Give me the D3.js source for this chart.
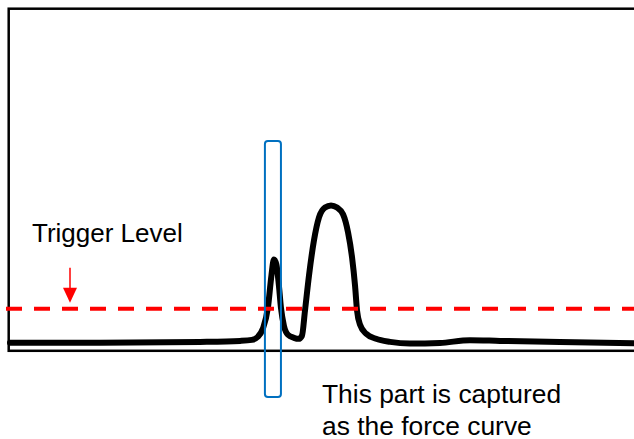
<!DOCTYPE html>
<html>
<head>
<meta charset="utf-8">
<script src="https://cdn.jsdelivr.net/npm/d3@7"></script>
<style>
  html, body { margin: 0; padding: 0; background: #fff; }
  svg { display: block; }
  text { font-family: "Liberation Sans", Arial, sans-serif; fill: #000; }
</style>
</head>
<body>
<svg id="chart" width="634" height="439"></svg>
<script>
// Force signal over time (ms, arbitrary force units)
const timeMs = [0.8, 36.7, 76.7, 92.7, 97.4, 99.8, 101.8, 103.8, 105.2, 106.2, 107.2, 108.2, 109.0, 110.2, 111.8, 114.2, 116.1, 117.4, 118.6, 120.2, 122.2, 124.2, 126.6, 129.0, 131.4, 133.8, 135.8, 137.4, 138.6, 139.4, 140.6, 143.0, 147.0, 152.6, 160.5, 172.5, 184.5, 196.5, 220.4, 250.0];
const force  = [2.35, 2.35, 2.6, 2.9, 3.2, 4.1, 6.5, 12.6, 22.0, 26.7, 25.2, 19.0, 12.6, 7.3, 4.7, 3.8, 3.5, 4.4, 11.7, 22.0, 32.3, 39.0, 41.9, 42.5, 41.9, 39.9, 34.6, 27.3, 19.0, 11.7, 7.6, 5.0, 3.5, 2.6, 2.1, 2.3, 3.1, 2.9, 2.6, 2.2];

// Trigger threshold and the captured window
const triggerLevel = 12.3;
const captureWindow = [102.6, 109.0];      // time range, ms
const captureForceSpan = [-13.5, 61.3];    // vertical extent of the marker box

const labels = {
  trigger: "Trigger Level",
  capture: ["This part is captured", "as the force curve"]
};

const svg = d3.select("#chart");
const x = d3.scaleLinear().domain([0, 250]).range([8, 634]);
const y = d3.scaleLinear().domain([0, 100]).range([350.8, 8.7]);

// Plot frame (open on the right, running past the edge)
svg.append("rect")
  .attr("x", 8.7).attr("y", y(100))
  .attr("width", 700).attr("height", y(0) - y(100))
  .attr("fill", "none").attr("stroke", "#000").attr("stroke-width", 2.5);

// Force curve
const line = d3.line()
  .x((d, i) => x(timeMs[i]))
  .y(d => y(d))
  .curve(d3.curveMonotoneX);

svg.append("path")
  .datum(force)
  .attr("d", line)
  .attr("fill", "none")
  .attr("stroke", "#000")
  .attr("stroke-width", 6)
  .attr("stroke-linejoin", "round")
  .attr("stroke-linecap", "round");

// Trigger level (dashed)
svg.append("line")
  .attr("x1", 6).attr("x2", 640)
  .attr("y1", y(triggerLevel)).attr("y2", y(triggerLevel))
  .attr("stroke", "#ff0000")
  .attr("stroke-width", 4)
  .attr("stroke-dasharray", "16,12");

// Arrow pointing at the trigger level
const ax = 70, tipY = y(triggerLevel) - 6;
svg.append("line")
  .attr("x1", ax).attr("x2", ax)
  .attr("y1", tipY - 35).attr("y2", tipY - 14)
  .attr("stroke", "#ff0000").attr("stroke-width", 1.5);
svg.append("path")
  .attr("d", `M${ax - 7},${tipY - 15} L${ax + 7},${tipY - 15} L${ax},${tipY} Z`)
  .attr("fill", "#ff0000");

svg.append("text")
  .attr("x", 32).attr("y", 242)
  .attr("font-size", 26)
  .text(labels.trigger);

// Captured window marker
svg.append("rect")
  .attr("x", x(captureWindow[0])).attr("y", y(captureForceSpan[1]))
  .attr("width", x(captureWindow[1]) - x(captureWindow[0]))
  .attr("height", y(captureForceSpan[0]) - y(captureForceSpan[1]))
  .attr("rx", 3).attr("ry", 3)
  .attr("fill", "none")
  .attr("stroke", "#0070c0")
  .attr("stroke-width", 2);

const cap = svg.append("text")
  .attr("x", 322).attr("y", 403)
  .attr("font-size", 26.4);
labels.capture.forEach((t, i) => {
  cap.append("tspan").attr("x", 322).attr("dy", i === 0 ? 0 : 31.5).text(t);
});
</script>
</body>
</html>
